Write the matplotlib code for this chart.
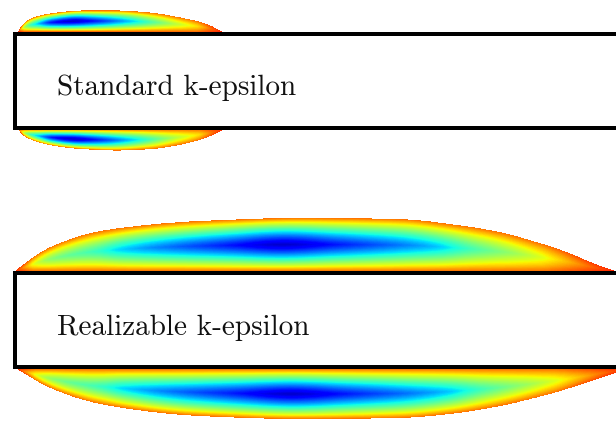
import numpy as np
import matplotlib
matplotlib.use("Agg")
import matplotlib.pyplot as plt
from matplotlib.colors import ListedColormap
from matplotlib.patches import Rectangle

# Lengths are in units of the body half-thickness; the body's leading edge is x = 0.
models = ["Standard k-epsilon", "Realizable k-epsilon"]

# Separation-bubble outlines: streamwise distance from the bubble start and
# bubble thickness measured from the wall (upper and lower faces).
std_start = [0.074, 0.074]
std_upper_x = [0.0, 0.106, 0.319, 0.681, 1.383, 2.106, 2.809, 3.511, 4.021, 4.340]
std_upper_h = [0.0, 0.170, 0.298, 0.383, 0.447, 0.447, 0.404, 0.287, 0.160, 0.0]
std_lower_x = [0.0, 0.106, 0.319, 0.681, 1.383, 2.106, 2.809, 3.511, 4.021, 4.383]
std_lower_h = [0.0, 0.128, 0.234, 0.334, 0.419, 0.447, 0.419, 0.313, 0.170, 0.0]

real_start = [0.010, 0.053]
real_upper_x = [0.0, 0.383, 0.745, 1.809, 3.936, 6.064, 8.191, 9.255, 10.319,
                11.021, 11.745, 12.234, 12.766]
real_upper_h = [0.0, 0.298, 0.511, 0.851, 1.064, 1.128, 1.106, 1.0, 0.830,
                0.638, 0.404, 0.191, 0.0]
real_lower_x = [0.0, 0.702, 1.766, 3.894, 6.021, 8.149, 9.213, 10.277, 11.340,
                12.043, 12.723, 13.043]
real_lower_h = [0.0, 0.404, 0.745, 1.0, 1.064, 1.043, 0.957, 0.787, 0.532,
                0.319, 0.085, 0.0]

# Normalised recirculation strength along the bubble mid-line
# (relative streamwise position -> level, 1 at the vortex core).
std_core_s = [0.0, 0.03, 0.06, 0.093, 0.17, 0.27, 0.37, 0.56, 0.64, 0.75, 0.88, 0.95, 1.0]
std_core_v = [0.0, 0.30, 0.50, 0.63, 0.90, 1.0, 0.90, 0.63, 0.50, 0.33, 0.16, 0.05, 0.0]
real_core_s = [0.0, 0.06, 0.137, 0.175, 0.363, 0.447, 0.53, 0.70, 0.76, 0.84, 0.92, 0.97, 1.0]
real_core_v = [0.0, 0.38, 0.52, 0.63, 0.90, 1.0, 0.90, 0.66, 0.50, 0.33, 0.14, 0.04, 0.0]
normal_exp = 1.3
edge_level = 0.10
edge_taper = (0.03, 0.12)   # fade of the rim level towards the bubble ends

outlines = [
    [(std_start[0], std_upper_x, std_upper_h), (std_start[1], std_lower_x, std_lower_h)],
    [(real_start[0], real_upper_x, real_upper_h), (real_start[1], real_lower_x, real_lower_h)],
]
cores = [(std_core_s, std_core_v), (real_core_s, real_core_v)]

body_half = 1.0
wall_px = 4.0
px_per_unit = 47.0
wall_edge = body_half + 0.5 * wall_px / px_per_unit

fig_w, fig_h = 616, 421
panel_band = [(0, 200), (200, 421)]
body_centre_px = [80.5, 320.0]
leading_edge_px = 14.5
label_x = 0.904
label_y = -0.309

jet = plt.get_cmap("jet")
cmap = ListedColormap(jet(np.linspace(0.87, 0.07, 256)))


def pchip(xk, yk, x):
    """Monotone piecewise-cubic Hermite interpolation."""
    xk = np.asarray(xk, float)
    yk = np.asarray(yk, float)
    hk = np.diff(xk)
    dk = np.diff(yk) / hk
    m = np.zeros_like(xk)
    m[0], m[-1] = dk[0], dk[-1]
    for k in range(1, len(xk) - 1):
        if dk[k - 1] * dk[k] > 0:
            w1 = 2 * hk[k] + hk[k - 1]
            w2 = hk[k] + 2 * hk[k - 1]
            m[k] = (w1 + w2) / (w1 / dk[k - 1] + w2 / dk[k])
    x = np.clip(x, xk[0], xk[-1])
    idx = np.clip(np.searchsorted(xk, x) - 1, 0, len(hk) - 1)
    u = (x - xk[idx]) / hk[idx]
    h00 = 2 * u**3 - 3 * u**2 + 1
    h10 = u**3 - 2 * u**2 + u
    h01 = -2 * u**3 + 3 * u**2
    h11 = u**3 - u**2
    return (h00 * yk[idx] + h10 * hk[idx] * m[idx]
            + h01 * yk[idx + 1] + h11 * hk[idx] * m[idx + 1])


def smooth_profile(y, sigma):
    """Gaussian smoothing with odd reflection so the end values stay at zero."""
    n = int(4 * sigma)
    pad_l = -y[1:n + 1][::-1]
    pad_r = -y[-n - 1:-1][::-1]
    yy = np.concatenate([pad_l, y, pad_r])
    k = np.exp(-0.5 * (np.arange(-n, n + 1) / sigma) ** 2)
    k /= k.sum()
    return np.clip(np.convolve(yy, k, mode="same")[n:-n], 0, None)


def draw_bubble(ax, i, side):
    x0, xs, hs = outlines[i][0 if side > 0 else 1]
    cs, cv = cores[i]
    length = xs[-1]
    nx = 1600
    x = np.linspace(0, length, nx)
    s = x / length
    h = smooth_profile(pchip(xs, hs, x), nx * 0.012)
    d = np.linspace(0, max(hs) * 1.03, 360)
    X, D = np.meshgrid(x, d)
    H = np.broadcast_to(h, X.shape)
    with np.errstate(divide="ignore", invalid="ignore"):
        t = D / H
    A = pchip(cs, cv, s)
    rim = edge_level * np.clip(np.minimum(s / edge_taper[0], (1 - s) / edge_taper[1]), 0, 1)
    B = 1 - np.abs(1 - 2 * np.clip(t, 0, 1)) ** normal_exp
    F = rim[None, :] + (1 - rim[None, :]) * A[None, :] * B
    F = np.ma.masked_where(~((t <= 1) & (H > 1e-4)), F)
    ax.pcolormesh(X + x0, side * (wall_edge + D), F, cmap=cmap, vmin=0, vmax=1,
                  shading="nearest", rasterized=True, zorder=1)


fig = plt.figure(figsize=(fig_w / 100, fig_h / 100), dpi=100)

for i, name in enumerate(models):
    top_px, bot_px = panel_band[i]
    ax = fig.add_axes([0, 1 - bot_px / fig_h, 1, (bot_px - top_px) / fig_h])
    ax.set_xlim(-leading_edge_px / px_per_unit, (fig_w - leading_edge_px) / px_per_unit)
    ax.set_ylim(-(bot_px - body_centre_px[i]) / px_per_unit,
                (body_centre_px[i] - top_px) / px_per_unit)
    ax.axis("off")

    draw_bubble(ax, i, +1)
    draw_bubble(ax, i, -1)

    body = Rectangle((0, -body_half), 40, 2 * body_half, facecolor="white",
                     edgecolor="black", linewidth=wall_px * 72 / 100, zorder=3)
    ax.add_patch(body)
    ax.text(label_x, label_y, name, fontfamily="cmr10", fontsize=21,
            va="baseline", ha="left", color="#111111", zorder=4)

fig.savefig("out.png", dpi=100, facecolor="white")
